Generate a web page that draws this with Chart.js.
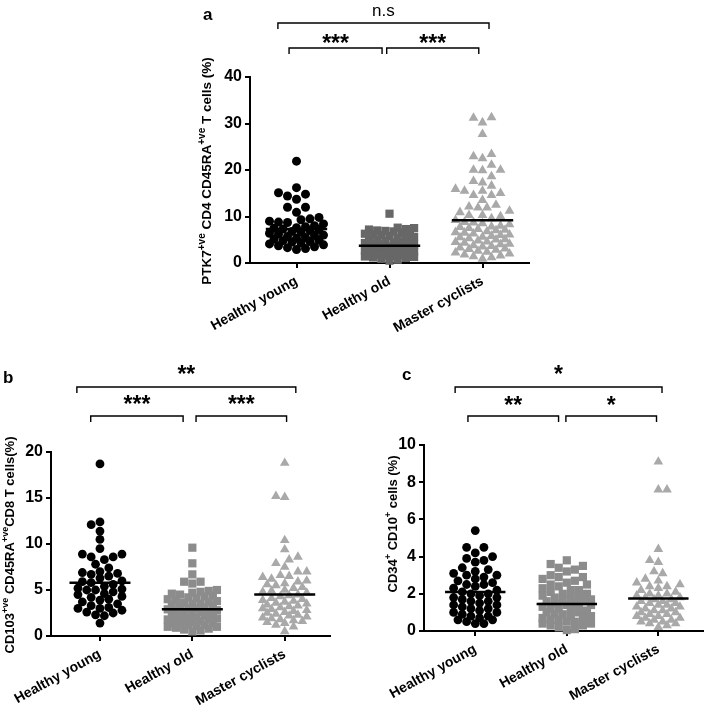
<!DOCTYPE html>
<html><head><meta charset="utf-8">
<script src="https://cdn.jsdelivr.net/npm/chart.js@4.4.1/dist/chart.umd.min.js"></script>
<style>
html,body{margin:0;padding:0;background:#fff;}
body{width:709px;height:707px;position:relative;overflow:hidden;}
canvas{position:absolute;left:0;top:0;width:709px;height:707px;}
</style></head><body>
<canvas id="pa" width="709" height="707"></canvas>
<canvas id="pb" width="709" height="707"></canvas>
<canvas id="pc" width="709" height="707"></canvas>
<script>
const categories = ['Healthy young', 'Healthy old', 'Master cyclists'];

// Panel a
const a_young = [21.9, 16.2, 15.1, 14.8, 14.4, 13.7, 12.0, 12.0, 10.9, 9.8, 9.5, 9.3, 9.0, 8.8, 8.7, 8.4, 8.0, 7.8, 7.6, 7.5, 7.3, 7.2, 7.0, 6.8, 6.6, 6.4, 6.2, 6.0, 5.9, 5.7, 5.5, 5.3, 5.1, 4.9, 4.8, 4.6, 4.5, 4.3, 4.1, 3.9, 3.7, 3.5, 3.3, 3.1, 2.9];
const a_old = [10.6, 7.6, 7.5, 7.3, 7.2, 7.0, 6.9, 6.8, 6.6, 6.5, 6.3, 6.1, 6.0, 5.8, 5.6, 5.5, 5.3, 5.1, 5.0, 4.8, 4.7, 4.5, 4.4, 4.3, 4.1, 4.0, 3.9, 3.8, 3.7, 3.5, 3.4, 3.3, 3.2, 3.0, 2.9, 2.8, 2.7, 2.6, 2.5, 2.4, 2.3, 2.2, 2.1, 2.0, 1.9, 1.8, 1.7, 1.6, 1.5, 1.4, 1.3, 1.2, 1.1, 0.9, 0.7, 0.5];
const a_cyclists = [31.3, 31.2, 30.2, 27.7, 23.4, 22.9, 22.5, 21.1, 20.0, 20.0, 19.9, 18.6, 17.6, 17.3, 16.6, 15.9, 15.5, 15.5, 15.0, 14.6, 14.6, 13.5, 12.5, 12.1, 11.9, 11.9, 11.2, 10.9, 10.3, 10.3, 10.0, 9.6, 9.2, 8.8, 8.7, 8.5, 8.3, 8.0, 7.8, 7.7, 7.5, 7.3, 7.1, 7.0, 6.8, 6.6, 6.5, 6.3, 6.1, 6.0, 5.8, 5.6, 5.5, 5.3, 5.1, 5.0, 4.8, 4.6, 4.5, 4.3, 4.1, 4.0, 3.8, 3.6, 3.5, 3.3, 3.1, 3.0, 2.8, 2.6, 2.4, 2.2, 2.0, 1.8, 1.6, 1.4, 1.2, 0.9];
const a_means = [7.3, 3.7, 9.2];
const a_yTicks = [0, 10, 20, 30, 40];
const a_sig = ['***', '***', 'n.s'];

// Panel b
const b_young = [18.7, 12.4, 12.1, 11.4, 10.5, 9.5, 8.9, 8.9, 8.6, 8.6, 8.3, 7.8, 7.4, 7.0, 6.9, 6.8, 6.7, 6.5, 6.3, 6.0, 5.9, 5.8, 5.6, 5.4, 5.2, 5.1, 5.0, 5.0, 4.8, 4.6, 4.5, 4.3, 4.2, 4.0, 3.9, 3.7, 3.5, 3.3, 3.1, 3.0, 3.0, 2.8, 2.6, 2.5, 2.3, 2.2, 1.4];
const b_old = [9.6, 7.9, 6.7, 5.9, 5.9, 5.7, 5.0, 4.9, 4.8, 4.7, 4.6, 4.5, 4.4, 4.3, 4.2, 4.1, 4.0, 3.9, 3.8, 3.7, 3.6, 3.5, 3.5, 3.4, 3.3, 3.2, 3.1, 3.0, 3.0, 2.9, 2.8, 2.7, 2.6, 2.6, 2.5, 2.4, 2.3, 2.3, 2.2, 2.1, 2.0, 2.0, 1.9, 1.8, 1.8, 1.7, 1.6, 1.6, 1.5, 1.4, 1.4, 1.3, 1.2, 1.2, 1.1, 1.0, 1.0, 0.9, 0.8, 0.7, 0.6, 0.5];
const b_cyclists = [18.8, 15.2, 15.1, 10.4, 9.4, 8.6, 8.3, 7.9, 7.5, 7.0, 7.0, 6.6, 6.5, 6.4, 6.2, 6.0, 5.9, 5.7, 5.6, 5.5, 5.3, 5.2, 5.0, 4.9, 4.8, 4.7, 4.5, 4.4, 4.3, 4.1, 4.0, 3.9, 3.8, 3.7, 3.6, 3.5, 3.4, 3.3, 3.2, 3.1, 3.0, 2.9, 2.8, 2.7, 2.6, 2.5, 2.4, 2.3, 2.2, 2.1, 2.0, 1.9, 1.8, 1.7, 1.6, 1.5, 1.4, 1.2, 1.0, 0.5];
const b_means = [5.8, 2.9, 4.5];
const b_yTicks = [0, 5, 10, 15, 20];
const b_sig = ['***', '***', '**'];

// Panel c
const c_young = [5.4, 4.5, 4.5, 4.2, 4.0, 3.9, 3.8, 3.7, 3.4, 3.3, 3.2, 3.1, 3.0, 3.0, 2.9, 2.8, 2.7, 2.6, 2.5, 2.5, 2.4, 2.3, 2.2, 2.1, 2.0, 2.0, 1.9, 1.8, 1.8, 1.7, 1.6, 1.6, 1.5, 1.4, 1.4, 1.3, 1.2, 1.2, 1.1, 1.0, 1.0, 0.9, 0.8, 0.8, 0.7, 0.6, 0.6, 0.5, 0.4, 0.4];
const c_old = [3.8, 3.6, 3.5, 3.4, 3.3, 3.2, 3.0, 2.9, 2.9, 2.8, 2.7, 2.6, 2.5, 2.5, 2.4, 2.3, 2.2, 2.2, 2.1, 2.0, 2.0, 1.9, 1.9, 1.8, 1.8, 1.7, 1.7, 1.6, 1.6, 1.5, 1.5, 1.4, 1.4, 1.3, 1.3, 1.2, 1.2, 1.1, 1.1, 1.0, 1.0, 0.9, 0.9, 0.8, 0.8, 0.7, 0.7, 0.6, 0.6, 0.5, 0.5, 0.4, 0.4, 0.3, 0.3, 0.2, 0.1, 0.05];
const c_cyclists = [9.1, 7.6, 7.6, 4.4, 3.8, 3.7, 3.2, 3.1, 2.8, 2.7, 2.6, 2.5, 2.4, 2.4, 2.3, 2.2, 2.1, 2.0, 2.0, 1.9, 1.9, 1.8, 1.8, 1.7, 1.7, 1.6, 1.6, 1.5, 1.5, 1.4, 1.4, 1.3, 1.3, 1.2, 1.2, 1.1, 1.1, 1.0, 1.0, 0.9, 0.9, 0.8, 0.8, 0.7, 0.7, 0.6, 0.6, 0.5, 0.5, 0.4, 0.4, 0.3, 0.2];
const c_means = [2.1, 1.45, 1.75];
const c_yTicks = [0, 2, 4, 6, 8, 10];
const c_sig = ['**', '*', '*'];

const FONT = "'Liberation Sans', Arial, sans-serif";
const W = 709, H = 707;

function swarmOffsets(values, diam, pxPerX, pxPerY, maxHalfPx) {
  const order = values.map((v, i) => i).sort((i, j) => values[i] - values[j]);
  const placed = [];
  const out = new Array(values.length).fill(0);
  const step = diam * 0.5;
  const minDist = diam * 0.92;
  order.forEach((idx, n) => {
    const py = values[idx] * pxPerY;
    let best = 0, bestD = -1;
    const cands = [0];
    for (let k = 1; k * step <= maxHalfPx + 0.01; k++) {
      if (n % 2) cands.push(k * step, -k * step); else cands.push(-k * step, k * step);
    }
    for (const s of cands) {
      let md = Infinity;
      for (const p of placed) {
        const dy = p.y - py;
        if (Math.abs(dy) >= minDist) continue;
        const d = Math.hypot(p.x - s, dy);
        if (d < md) md = d;
      }
      if (md >= minDist) { best = s; bestD = md; break; }
      if (md > bestD) { bestD = md; best = s; }
    }
    placed.push({ x: best, y: py });
    out[idx] = best / pxPerX;
  });
  return out;
}

function drawVerticalTitle(ctx, segs, cx, cy, size) {
  ctx.save();
  ctx.translate(cx, cy);
  ctx.rotate(-Math.PI / 2);
  const sup = Math.round(size * 0.72);
  const widths = segs.map(s => { ctx.font = `bold ${s[1] ? sup : size}px ${FONT}`; return ctx.measureText(s[0]).width; });
  const total = widths.reduce((a, b) => a + b, 0);
  let x = -total / 2;
  ctx.textBaseline = 'middle';
  ctx.fillStyle = '#000';
  segs.forEach((s, i) => {
    ctx.font = `bold ${s[1] ? sup : size}px ${FONT}`;
    ctx.fillText(s[0], x, s[1] ? -size * 0.38 : 0);
    x += widths[i];
  });
  ctx.restore();
}

function buildPanel(p) {
  const yAxisW = 40, xAxisH = 71;
  const padding = { left: p.area.left - yAxisW, right: W - p.area.right, top: p.area.top, bottom: Math.max(0, H - p.area.bottom - xAxisH) };
  const yMin = p.yTicks[0], yMax = p.yTicks[p.yTicks.length - 1];
  const pxX = (p.area.right - p.area.left) / (p.xMax - p.xMin);
  const pxY = (p.area.bottom - p.area.top) / (yMax - yMin);
  const datasets = [];
  p.groups.forEach((vals, gi) => {
    const st = p.styles[gi];
    const offs = swarmOffsets(vals, st.diam, pxX, pxY, p.maxHalf);
    datasets.push({
      type: 'scatter', order: 2, clip: false,
      data: vals.map((v, i) => ({ x: gi + offs[i], y: v })),
      pointStyle: st.shape, pointRadius: st.r, pointHoverRadius: st.r,
      backgroundColor: st.color, borderColor: st.color, borderWidth: 0
    });
  });
  p.means.forEach((m, gi) => {
    datasets.push({
      type: 'scatter', order: 1, clip: false, showLine: true,
      data: [{ x: gi - p.meanHalf, y: m }, { x: gi + p.meanHalf, y: m }],
      borderColor: '#000', borderWidth: 2.5, pointRadius: 0, pointHoverRadius: 0
    });
  });
  const annot = {
    id: 'annot' + p.id,
    afterDraw(chart) {
      const ctx = chart.ctx;
      const xs = chart.scales.x;
      ctx.save();
      ctx.fillStyle = '#000';
      ctx.font = `bold 17px ${FONT}`;
      ctx.textAlign = 'left';
      ctx.textBaseline = 'alphabetic';
      ctx.fillText(p.letter, p.letterPos[0], p.letterPos[1]);
      drawVerticalTitle(ctx, p.title, p.titlePos[0], p.titlePos[1], p.titleSize);
      ctx.strokeStyle = '#000';
      ctx.lineWidth = 1.4;
      p.brackets.forEach((b, i) => {
        const x1 = xs.getPixelForValue(b.x1), x2 = xs.getPixelForValue(b.x2);
        ctx.beginPath();
        ctx.moveTo(x1, b.y + 6); ctx.lineTo(x1, b.y); ctx.lineTo(x2, b.y); ctx.lineTo(x2, b.y + 6);
        ctx.stroke();
        const txt = p.sig[i];
        const isStar = txt.indexOf('*') >= 0;
        const size = isStar ? 23 : 17;
        ctx.font = (isStar ? 'bold ' : '') + size + 'px ' + FONT;
        ctx.textAlign = 'center';
        ctx.fillText(txt, (x1 + x2) / 2, b.ty + (isStar ? 0.57 : 0.26) * size);
      });
      ctx.restore();
    }
  };
  const axisCommon = {
    grid: { display: true, drawOnChartArea: false, drawTicks: true, tickLength: 5, color: '#000', lineWidth: 2 },
    border: { display: true, color: '#000', width: 2 }
  };
  return new Chart(document.getElementById(p.id), {
    type: 'scatter',
    data: { datasets },
    options: {
      responsive: false, animation: false, devicePixelRatio: 1,
      layout: { padding },
      plugins: { legend: { display: false }, tooltip: { enabled: false } },
      scales: {
        x: Object.assign({
          type: 'linear', min: p.xMin, max: p.xMax,
          afterBuildTicks: s => { s.ticks = categories.map((c, i) => ({ value: i })); },
          afterFit: s => { s.height = xAxisH; },
          ticks: {
            autoSkip: false, minRotation: 29, maxRotation: 29, padding: 5,
            color: '#000', font: { family: FONT, size: 14, weight: 'bold' },
            callback: v => categories[v]
          }
        }, axisCommon),
        y: Object.assign({
          type: 'linear', min: yMin, max: yMax,
          afterBuildTicks: s => { s.ticks = p.yTicks.map(v => ({ value: v })); },
          afterFit: s => { s.width = yAxisW; },
          ticks: { padding: 3, color: '#000', font: { family: FONT, size: 16, weight: 'bold' } }
        }, axisCommon)
      }
    },
    plugins: [annot]
  });
}

const dark = '#000000', sqA = '#676767', sqBC = '#8c8c8c', tri = '#a9a9a9';

buildPanel({
  id: 'pa', area: { left: 250, right: 529, top: 77, bottom: 263 }, xMin: -0.5, xMax: 2.5,
  yTicks: a_yTicks, groups: [a_young, a_old, a_cyclists], means: a_means, sig: a_sig,
  meanHalf: 0.33, maxHalf: 27,
  styles: [{ shape: 'circle', r: 4.5, diam: 9, color: dark }, { shape: 'rect', r: 5.8, diam: 8.2, color: sqA }, { shape: 'triangle', r: 5.7, diam: 9, color: tri }],
  letter: 'a', letterPos: [203, 20],
  title: [['PTK7', 0], ['+ve', 1], [' CD4 CD45RA', 0], ['+ve', 1], [' T cells (%)', 0]], titlePos: [207, 171], titleSize: 13.5,
  brackets: [{ x1: -0.08, x2: 0.92, y: 48, ty: 37.5 }, { x1: 0.97, x2: 1.96, y: 48, ty: 37.5 }, { x1: -0.2, x2: 2.07, y: 23, ty: 11.5 }]
});

buildPanel({
  id: 'pb', area: { left: 51, right: 330, top: 452, bottom: 636 }, xMin: -0.53, xMax: 2.49,
  yTicks: b_yTicks, groups: [b_young, b_old, b_cyclists], means: b_means, sig: b_sig,
  meanHalf: 0.33, maxHalf: 25,
  styles: [{ shape: 'circle', r: 4.4, diam: 8.8, color: dark }, { shape: 'rect', r: 5.8, diam: 8.2, color: sqBC }, { shape: 'triangle', r: 5.6, diam: 8.8, color: tri }],
  letter: 'b', letterPos: [3, 383],
  title: [['CD103', 0], ['+ve', 1], [' CD45RA', 0], ['+ve', 1], ['CD8 T cells(%)', 0]], titlePos: [10, 545], titleSize: 13,
  brackets: [{ x1: -0.1, x2: 0.9, y: 416, ty: 399 }, { x1: 1.04, x2: 2.02, y: 416, ty: 399 }, { x1: -0.25, x2: 2.12, y: 387, ty: 369 }]
});

buildPanel({
  id: 'pc', area: { left: 424, right: 708, top: 445, bottom: 631 }, xMin: -0.56, xMax: 2.49,
  yTicks: c_yTicks, groups: [c_young, c_old, c_cyclists], means: c_means, sig: c_sig,
  meanHalf: 0.33, maxHalf: 25,
  styles: [{ shape: 'circle', r: 4.4, diam: 8.8, color: dark }, { shape: 'rect', r: 5.8, diam: 8.2, color: sqBC }, { shape: 'triangle', r: 5.6, diam: 8.8, color: tri }],
  letter: 'c', letterPos: [402, 380],
  title: [['CD34', 0], ['+', 1], [' CD10', 0], ['+', 1], [' cells (%)', 0]], titlePos: [393, 524], titleSize: 13,
  brackets: [{ x1: -0.08, x2: 0.91, y: 416, ty: 400 }, { x1: 0.99, x2: 1.98, y: 416, ty: 400 }, { x1: -0.22, x2: 2.04, y: 387, ty: 369 }]
});
</script></body></html>
